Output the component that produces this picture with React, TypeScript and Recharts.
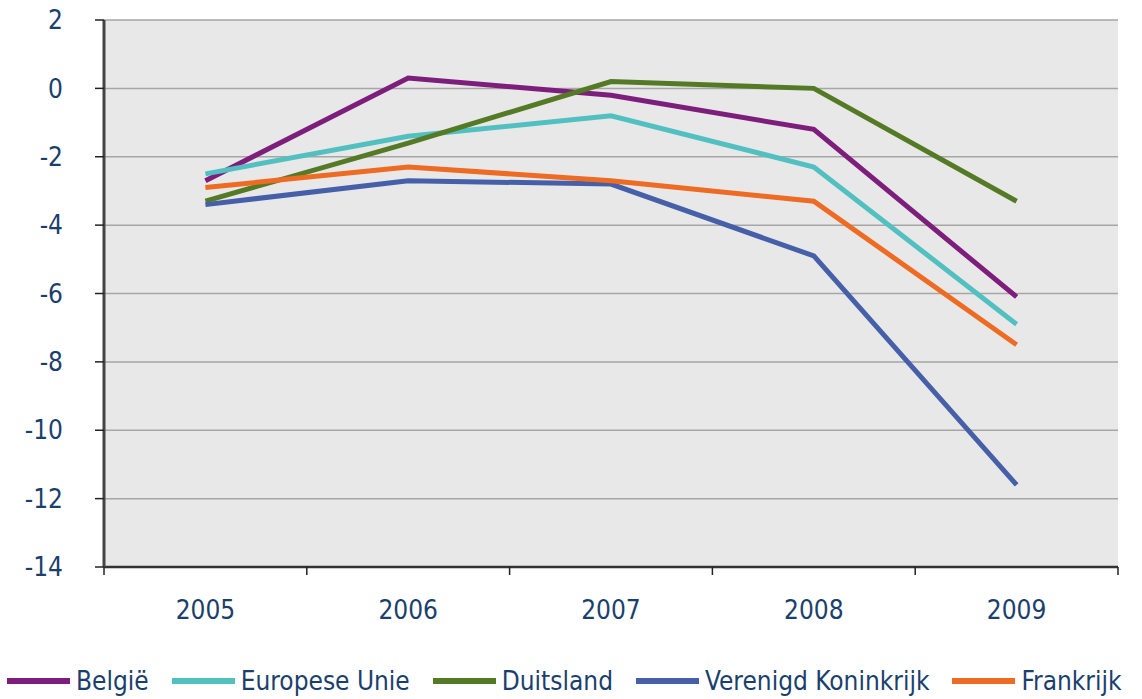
import { CartesianGrid, Line, LineChart, XAxis, YAxis } from 'recharts';

const years = ['2005', '2006', '2007', '2008', '2009'];
const belgie = [-2.7, 0.3, -0.2, -1.2, -6.1];
const europeseUnie = [-2.5, -1.4, -0.8, -2.3, -6.9];
const duitsland = [-3.3, -1.6, 0.2, 0.0, -3.3];
const verenigdKoninkrijk = [-3.4, -2.7, -2.8, -4.9, -11.6];
const frankrijk = [-2.9, -2.3, -2.7, -3.3, -7.5];
const yTicks = [2, 0, -2, -4, -6, -8, -10, -12, -14];

const series = [
  { key: 'belgie', name: 'België', values: belgie, color: '#7d1e7c' },
  { key: 'eu', name: 'Europese Unie', values: europeseUnie, color: '#52c0c0' },
  { key: 'duitsland', name: 'Duitsland', values: duitsland, color: '#557a25' },
  { key: 'vk', name: 'Verenigd Koninkrijk', values: verenigdKoninkrijk, color: '#4560a8' },
  { key: 'frankrijk', name: 'Frankrijk', values: frankrijk, color: '#ee6b24' },
];

const data = years.map((year, i) => {
  const row: Record<string, string | number> = { year };
  series.forEach((s) => (row[s.key] = s.values[i]));
  return row;
});

const FONT = "'DejaVu Sans Condensed', 'Liberation Sans Narrow', 'DejaVu Sans', sans-serif";
const TEXT = '#1b3f6d';
const W = 1142;
const H = 640;
const M = { top: 20, right: 24, left: 0, bottom: 13 };
const Y_W = 104;
const PLOT_W = W - M.left - M.right - Y_W;
const BAND = PLOT_W / years.length;

const YearTick = (props: any) => {
  const { x, y, payload, index } = props;
  const left = x - BAND / 2;
  return (
    <g>
      <line x1={left} x2={left} y1={y - 8} y2={y} stroke="#222" strokeWidth={1.5} />
      {index === years.length - 1 && (
        <line x1={x + BAND / 2} x2={x + BAND / 2} y1={y - 8} y2={y} stroke="#222" strokeWidth={1.5} />
      )}
      <text x={x} y={y + 44} textAnchor="middle" fill={TEXT} fontSize={26} fontFamily={FONT}>
        {payload.value}
      </text>
    </g>
  );
};

export default function App() {
  return (
    <div style={{ position: 'absolute', left: 0, top: 0, width: W, height: 699, background: '#fff', fontFamily: FONT }}>
      <LineChart width={W} height={H} data={data} margin={M}>
        <CartesianGrid fill="#e8e8e8" stroke="#a6a6a6" strokeWidth={1.5} vertical={false} />
        <XAxis
          dataKey="year"
          scale="band"
          axisLine={{ stroke: '#333', strokeWidth: 2.5 }}
          tickLine={false}
          tickSize={8}
          tickMargin={0}
          height={60}
          interval={0}
          tick={<YearTick />}
        />
        <XAxis xAxisId="top" orientation="top" dataKey="year" scale="band" height={0} tick={false} tickLine={false} axisLine={{ stroke: '#8c8c8c', strokeWidth: 3 }} />
        <YAxis
          domain={[-14, 2]}
          ticks={yTicks}
          interval={0}
          width={Y_W}
          axisLine={{ stroke: '#444', strokeWidth: 3 }}
          tickLine={{ stroke: '#222', strokeWidth: 1.5 }}
          tickSize={9}
          tickMargin={32}
          tick={{ fill: TEXT, fontSize: 26, fontFamily: FONT }}
        />
        <YAxis yAxisId="right" orientation="right" domain={[-14, 2]} width={0} tick={false} tickLine={false} axisLine={{ stroke: '#8c8c8c', strokeWidth: 3 }} />
        {series.map((s) => (
          <Line
            key={s.key}
            dataKey={s.key}
            name={s.name}
            stroke={s.color}
            strokeWidth={5}
            dot={false}
            type="linear"
            isAnimationActive={false}
          />
        ))}
      </LineChart>
      <div style={{ position: 'absolute', left: 7, top: 664, display: 'flex', alignItems: 'center', gap: 23 }}>
        {series.map((s) => (
          <div key={s.key} style={{ display: 'flex', alignItems: 'center', gap: 6 }}>
            <div style={{ width: 63, height: 6, background: s.color }} />
            <span style={{ color: TEXT, fontSize: 26, lineHeight: '34px' }}>{s.name}</span>
          </div>
        ))}
      </div>
    </div>
  );
}
